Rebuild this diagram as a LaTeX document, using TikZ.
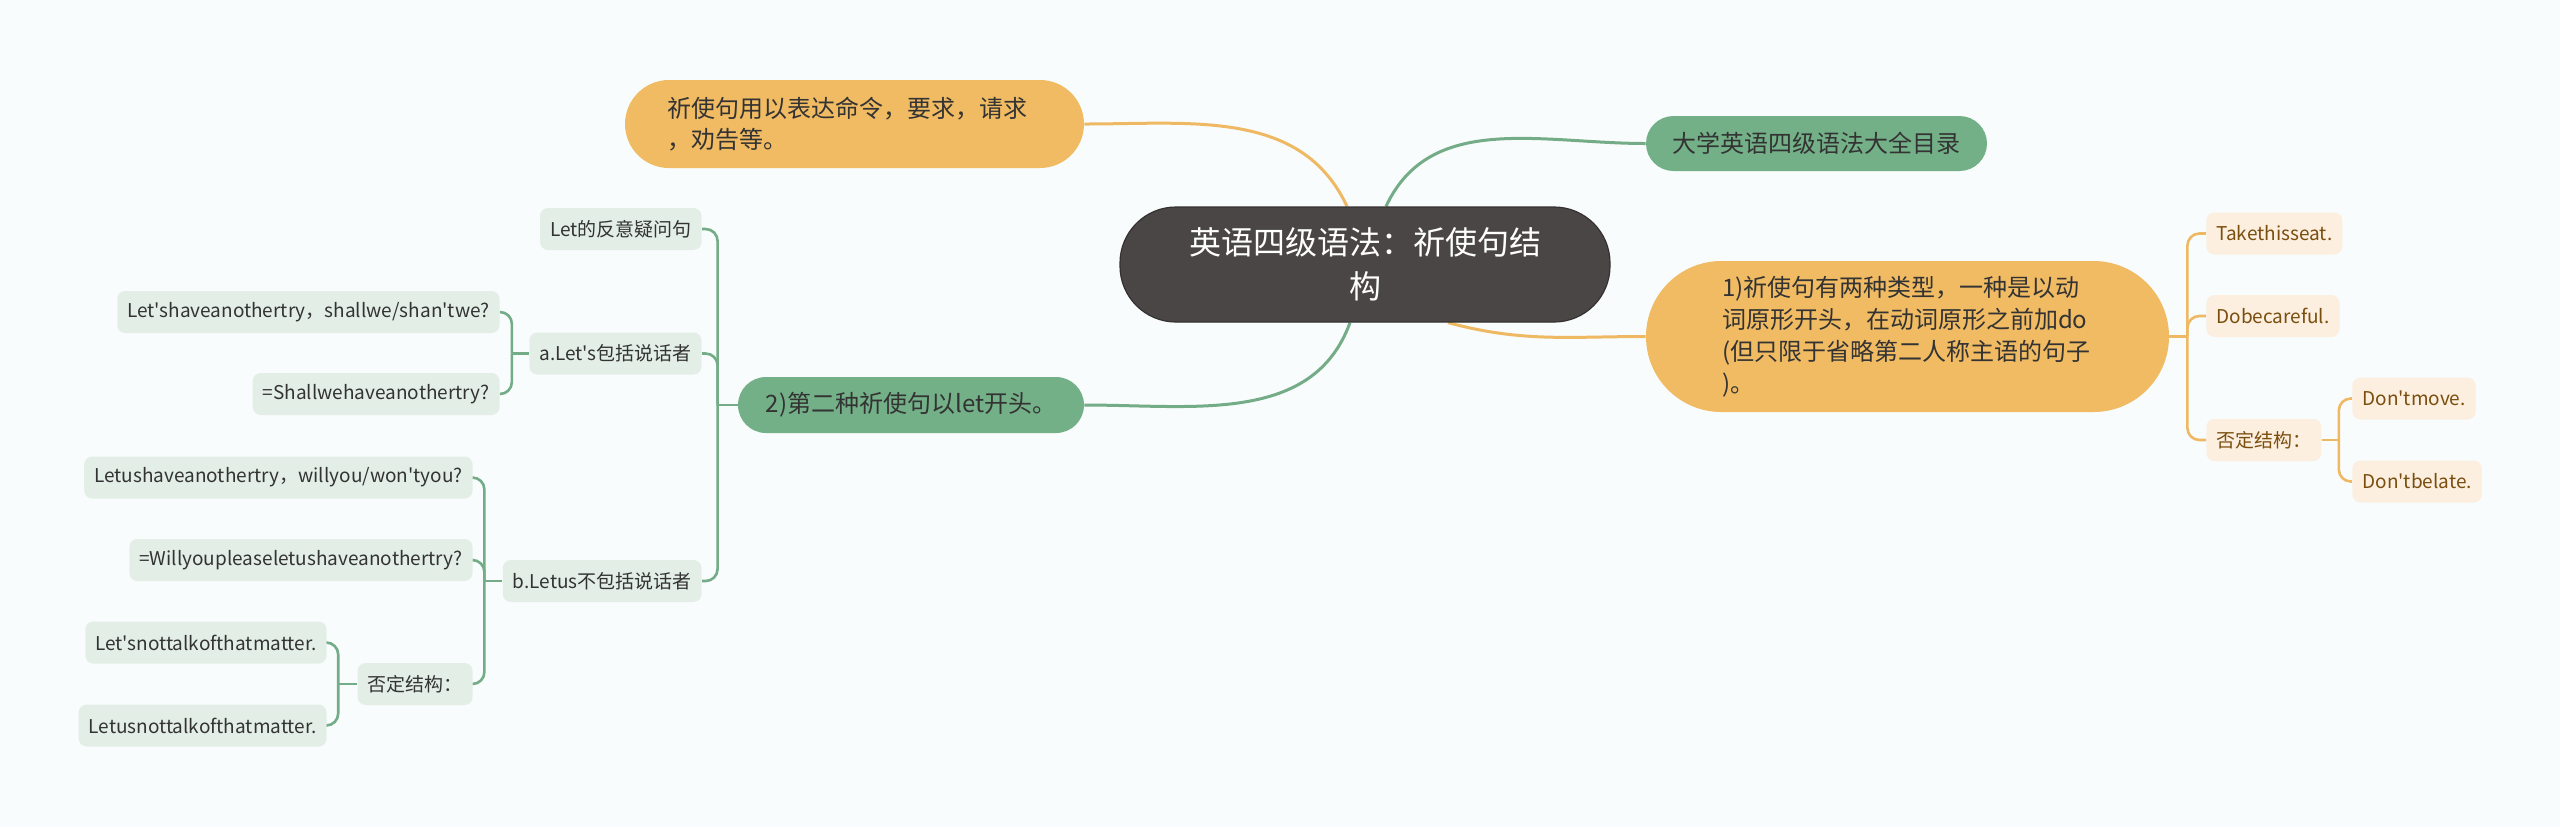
\documentclass[tikz,border=0pt]{standalone}
\usepackage{fontspec}
\setmainfont{Noto Sans CJK SC}[Ligatures=TeXOff]
\usetikzlibrary{calc}
\pgfdeclarelayer{back}
\pgfdeclarelayer{bg}
\pgfsetlayers{back,bg,main}
\definecolor{bgc}{HTML}{F8FCFC}
\definecolor{cfill}{HTML}{4B4646}
\definecolor{cdraw}{HTML}{363131}
\definecolor{ofill}{HTML}{F0BB63}
\definecolor{gfill}{HTML}{73B087}
\definecolor{lgreen}{HTML}{E3EFE6}
\definecolor{lorange}{HTML}{FCEFDF}
\definecolor{gline}{HTML}{73AC86}
\definecolor{oline}{HTML}{EFB964}
\definecolor{tdark}{HTML}{333333}
\definecolor{tbrown}{HTML}{7A4E0E}
\tikzset{
  big/.style={inner ysep=0pt, text=tdark, font=\fontsize{12}{15.5}\selectfont},
  ob/.style={big, fill=ofill},
  gb/.style={big, fill=gfill, align=center, inner xsep=0pt},
  lsm/.style={fill=lgreen, text=tdark, rounded corners=4pt, minimum height=21pt,
    inner xsep=5pt, inner ysep=0pt, font=\fontsize{9.5}{12}\selectfont, anchor=east},
  rsm/.style={fill=lorange, text=tbrown, rounded corners=4pt, minimum height=21pt,
    inner xsep=5pt, inner ysep=0pt, font=\fontsize{9.5}{12}\selectfont, anchor=west},
  gcon/.style={draw=gline, line width=1.3pt, rounded corners=6pt},
  ocon/.style={draw=oline, line width=1.3pt, rounded corners=6pt},
  gmain/.style={draw=gline, line width=1.5pt},
  omain/.style={draw=oline, line width=1.5pt}
}
\begin{document}
\begin{tikzpicture}[x=0.5pt,y=-0.5pt]
\begin{pgfonlayer}{back}
\fill[bgc] (0,0) rectangle (2560,827);
\end{pgfonlayer}
\useasboundingbox (0,0) rectangle (2560,827);

% central
\node[draw=cdraw, line width=0.6pt, fill=cfill, text=white, rounded corners=28pt,
  minimum width=245pt, minimum height=57.5pt, align=center, inner sep=0pt,
  font=\fontsize{16}{22}\selectfont] (c) at (1365,264.5) {英语四级语法：祈使句结\\构};

% main branches
\node[ob, rounded corners=22pt, minimum height=44pt, text width=187.5pt, align=left,
  inner xsep=21pt] (tl) at (854.5,124) {祈使句用以表达命令，要求，请求\\，劝告等。};
\node[gb, rounded corners=13.75pt, minimum width=170.5pt, minimum height=27.5pt]
  (gt) at (1816.5,143.5) {大学英语四级语法大全目录};
\node[ob, rounded corners=37.7pt, minimum height=75.5pt, text width=185.5pt, align=left,
  inner xsep=38pt, font=\fontsize{12}{16}\selectfont] (ro) at (1907.5,336.5)
  {1)祈使句有两种类型，一种是以动\\词原形开头，在动词原形之前加do\\(但只限于省略第二人称主语的句子\\)。};
\node[gb, rounded corners=14pt, minimum width=173pt, minimum height=28pt]
  (gl) at (911,405) {2)第二种祈使句以let开头。};

% left subtree
\node[lsm] (L1) at (702,229) {Let的反意疑问句};
\node[lsm] (A) at (702,353.5) {a.Let's包括说话者};
\node[lsm] (A1) at (500,312) {Let'shaveanothertry，shallwe/shan'twe?};
\node[lsm] (A2) at (500,394) {=Shallwehaveanothertry?};
\node[lsm] (B) at (702,581) {b.Letus不包括说话者};
\node[lsm] (B1) at (473,477.5) {Letushaveanothertry，willyou/won'tyou?};
\node[lsm] (B2) at (473,560) {=Willyoupleaseletushaveanothertry?};
\node[lsm] (B3) at (473,684) {否定结构：};
\node[lsm] (B31) at (327,642.5) {Let'snottalkofthatmatter.};
\node[lsm] (B32) at (327,725.5) {Letusnottalkofthatmatter.};

% right subtree
\node[rsm] (R1) at (2206,233.5) {Takethisseat.};
\node[rsm] (R2) at (2206,316) {Dobecareful.};
\node[rsm] (R3) at (2206,440) {否定结构：};
\node[rsm] (R31) at (2352,398.5) {Don'tmove.};
\node[rsm] (R32) at (2352,481.5) {Don'tbelate.};

\coordinate (gj) at ([xshift=-10pt]gl.west);
\coordinate (aj) at ([xshift=-8.5pt]A.west);
\coordinate (bj) at ([xshift=-9pt]B.west);
\coordinate (b3j) at ([xshift=-9.5pt]B3.west);
\coordinate (rj) at ([xshift=9pt]ro.east);
\coordinate (r3j) at ([xshift=8.5pt]R3.east);

\begin{pgfonlayer}{bg}
% central connectors
\draw[omain] (tl.east) to[out=0,in=115] ([xshift=-9pt]c.north);
\draw[gmain] ([xshift=10.5pt]c.north) to[out=65,in=180] (gt.west);
\draw[omain] ([xshift=41.5pt]c.south) to[out=-15,in=180] (ro.west);
\draw[gmain] ([xshift=-7.5pt]c.south) to[out=-110,in=0] (gl.east);

% left tree
\draw[gcon] (gl.west) -- (gj);
\draw[gcon] (gj) |- (L1.east);
\draw[gcon] (gj) |- (A.east);
\draw[gcon] (gj) |- (B.east);
\draw[gcon] (A.west) -- (aj);
\draw[gcon] (aj) |- (A1.east);
\draw[gcon] (aj) |- (A2.east);
\draw[gcon] (B.west) -- (bj);
\draw[gcon] (bj) |- (B1.east);
\draw[gcon] (bj) |- (B2.east);
\draw[gcon] (bj) |- (B3.east);
\draw[gcon] (B3.west) -- (b3j);
\draw[gcon] (b3j) |- (B31.east);
\draw[gcon] (b3j) |- (B32.east);

% right tree
\draw[ocon] (ro.east) -- (rj);
\draw[ocon] (rj) |- (R1.west);
\draw[ocon] (rj) |- (R2.west);
\draw[ocon] (rj) |- (R3.west);
\draw[ocon] (R3.east) -- (r3j);
\draw[ocon] (r3j) |- (R31.west);
\draw[ocon] (r3j) |- (R32.west);
\end{pgfonlayer}
\end{tikzpicture}
\end{document}
